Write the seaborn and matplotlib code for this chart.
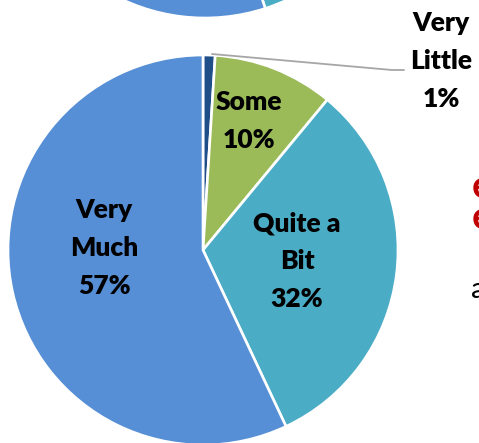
import matplotlib
matplotlib.use("Agg")
import matplotlib.pyplot as plt
import seaborn as sns

# Survey responses, clockwise from 12 o'clock
categories = ["Very Little", "Some", "Quite a Bit", "Very Much"]
shares = [1, 10, 32, 57]
labels = ["Very\nLittle\n1%", "Some\n10%", "Quite a\nBit\n32%", "Very\nMuch\n57%"]

# Companion pie above (only its lower rim is in view)
upper_shares = [2, 10, 33, 55]

sns.set_theme(style="white")
plt.rcParams["font.family"] = ["Lato", "DejaVu Sans"]

colors = sns.color_palette(["#1F4E89", "#9BBB59", "#4BACC6", "#568FD5"])

W, H = 479, 443
fig = plt.figure(figsize=(W / 100, H / 100), dpi=100)
ax = fig.add_axes([0, 0, 1, 1])

R = 195
wedge_style = dict(edgecolor="white", linewidth=1.9)

ax.pie(upper_shares, colors=colors, startangle=90, counterclock=False,
       radius=R, center=(205, H + 177), wedgeprops=wedge_style, frame=True)
ax.pie(shares, colors=colors, startangle=90, counterclock=False,
       radius=R, center=(203, H - 250), wedgeprops=wedge_style, frame=True)

ax.set_xlim(0, W)
ax.set_ylim(0, H)
ax.set_aspect("equal")
ax.axis("off")

txt = dict(ha="center", va="center", fontsize=19, fontweight="heavy",
           color="black", linespacing=1.7)
ax.text(104, H - 248, labels[3], **txt)
ax.text(297, H - 261, labels[2], **txt)
ax.text(249, H - 121, labels[1], **txt)
ax.text(441, H - 61, labels[0], **txt)

# Leader line for the thin slice
ax.plot([212, 392, 404], [H - 54, H - 70, H - 70], color="#A6A6A6", lw=1.3)

# Neighbouring slide text running off the right edge
fig.text(472 / W, 1 - 202 / H, "e\ne", color="#C00000", fontsize=28,
         fontweight="bold", ha="left", va="center", linespacing=0.85)
fig.text(471 / W, 1 - 290 / H, "a", color="black", fontsize=21,
         ha="left", va="center")

fig.savefig("out.png", dpi=100)
